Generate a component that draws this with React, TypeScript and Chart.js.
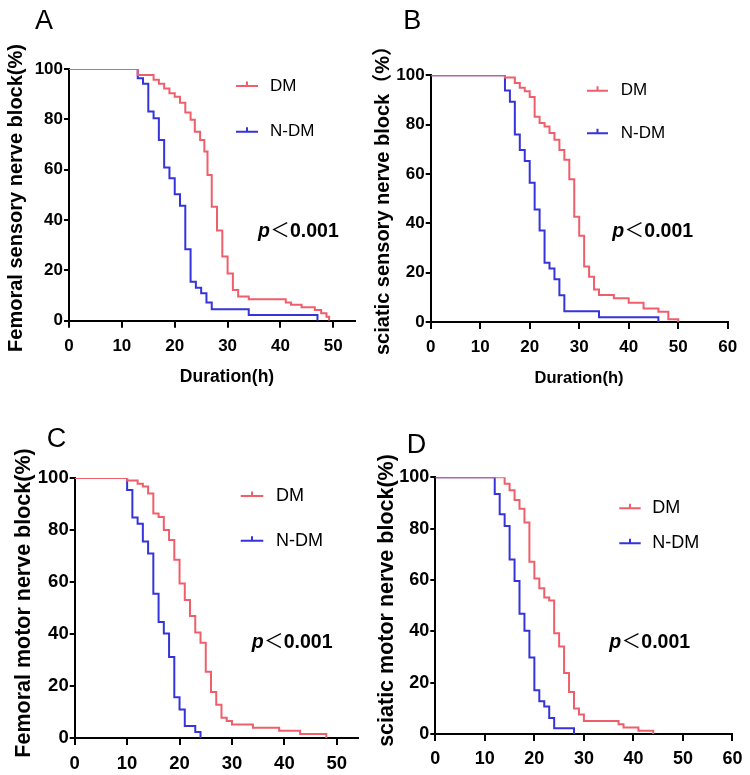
import React, { useEffect, useRef } from "react";
import { Chart, registerables } from "chart.js";

Chart.register(...registerables);

const FONT = "'Liberation Sans', Arial, Helvetica, sans-serif";
const CJK = "'Noto Sans CJK SC', 'Liberation Sans', sans-serif";

const SERIES = ["DM", "N-DM"];
const RED = "#EF5F6B";
const BLUE = "#3434DA";

// ---------- Panel A: femoral sensory ----------
const aDmHours = [0, 13, 16, 17, 18, 19, 20, 21, 22, 23, 23.8, 24.8, 25.6, 26.2, 27, 28, 29, 30, 31, 32, 34, 41, 42, 44, 46.5, 47.7, 48.7, 49.2];
const aDmBlock = [100, 97.6, 95.7, 94.1, 92.3, 90.4, 89.0, 86.6, 82.7, 79.8, 75.1, 71.8, 67.2, 57.9, 45.3, 35.8, 25.5, 18.8, 12.2, 9.6, 8.5, 7.2, 6.3, 5.3, 4.3, 3.0, 1.6, 0];
const aNdmHours = [0, 13, 14, 15, 16, 17, 18, 19, 20, 21, 22, 23, 24, 25, 26, 27, 34, 47];
const aNdmBlock = [100, 96.3, 94.1, 83.1, 80.4, 71.8, 60.9, 56.6, 50.2, 45.7, 28.4, 15.5, 13.1, 10.9, 7.2, 4.5, 2.3, 0];

// ---------- Panel B: sciatic sensory ----------
const bDmHours = [0, 15, 17, 18, 19, 20, 21, 22, 23, 24, 25, 26, 27, 28, 29, 30, 31, 32, 33, 34, 37, 40, 43, 46, 48, 50];
const bDmBlock = [100, 99.1, 96.9, 95, 93.5, 91.2, 83.2, 80.7, 79.2, 76.6, 73.9, 69.7, 65.8, 57.9, 42.7, 35, 22.5, 18.3, 13.2, 10.9, 9.6, 7.8, 5.5, 4.2, 1.1, 0];
const bNdmHours = [0, 15, 16, 17, 18, 19, 20, 21, 22, 23, 24, 25, 26, 27, 34, 46];
const bNdmBlock = [100, 93.8, 89.3, 76, 69.7, 65.3, 56.4, 45.6, 37.1, 24, 21.7, 17.3, 10.8, 4.4, 1.9, 0];

// ---------- Panel C: femoral motor ----------
const cDmHours = [0, 10, 12, 13, 14, 15, 16, 17, 18, 19, 20, 21, 22, 23, 24, 25, 26, 27, 28, 29, 30, 34, 39, 43, 48];
const cDmBlock = [100, 99, 97.8, 96.7, 94, 86.3, 85, 80, 76.2, 68.6, 59.4, 53.1, 46.9, 40.6, 36.6, 25.5, 17.7, 12.8, 7.8, 6.5, 5.2, 3.9, 2.8, 1.5, 0];
const cNdmHours = [0, 10, 11, 12, 13, 14, 15, 16, 17, 18, 19, 20, 21, 23, 24];
const cNdmBlock = [100, 95.4, 84.8, 82.4, 75.6, 71, 55.5, 44.6, 40.2, 31.2, 15.7, 11, 4.6, 2.3, 0];

// ---------- Panel D: sciatic motor ----------
const dDmHours = [0, 14, 15, 16, 17, 18, 19, 20, 21, 22, 23, 24, 25, 26, 27, 28, 29, 30, 37, 38, 41, 44];
const dDmBlock = [100, 97.5, 95, 91.2, 87.7, 82.4, 67.1, 60.6, 56.8, 53.2, 52, 39.2, 34.1, 23.8, 16.4, 9.9, 7.6, 5.1, 3.8, 2.5, 1.3, 0];
const dNdmHours = [0, 12, 13, 14, 15, 16, 17, 18, 19, 20, 21, 22, 23, 24, 28];
const dNdmBlock = [100, 93.5, 85.6, 81, 68, 59.6, 46.8, 40.2, 29.8, 17, 12.8, 10.7, 6.2, 2.2, 0];

// ---------- ticks & labels ----------
const xTicks50 = [0, 10, 20, 30, 40, 50];
const xTicks60 = [0, 10, 20, 30, 40, 50, 60];
const yTicks = [0, 20, 40, 60, 80, 100];
const letters = ["A", "B", "C", "D"];
const yTitles = [
  "Femoral sensory nerve block(%)",
  "sciatic sensory nerve block\uFF08%\uFF09",
  "Femoral motor nerve block(%)",
  "sciatic motor nerve block(%)",
];
const xTitle = "Duration(h)";
const pLabel = ["p", "\uFF1C", "0.001"];

type PanelCfg = {
  letter: string;
  box: { left: number; top: number; width: number; height: number };
  area: { left: number; top: number; right: number; bottom: number };
  xMax: number;
  xTicks: number[];
  dm: [number[], number[]];
  ndm: [number[], number[]];
  yTitle: string;
  yTitleSize: number;
  yTitleAt: [number, number];
  xTitleSize?: number;
  xTitleAt?: [number, number];
  tickSize: number;
  xTickPad: number;
  letterAt: [number, number];
  legend: { x0: number; x1: number; textX: number; ys: [number, number]; size: number };
  pAt: [number, number];
};

const panels: PanelCfg[] = [
  {
    letter: letters[0],
    box: { left: 0, top: 0, width: 375, height: 390 },
    area: { left: 69, top: 69, right: 355, bottom: 320.7 },
    xMax: 54.1,
    xTicks: xTicks50,
    dm: [aDmHours, aDmBlock],
    ndm: [aNdmHours, aNdmBlock],
    yTitle: yTitles[0],
    yTitleSize: 20,
    yTitleAt: [16.5, 198],
    xTitleSize: 17.5,
    xTitleAt: [227, 381.5],
    tickSize: 17,
    xTickPad: 8,
    letterAt: [35, 29.3],
    legend: { x0: 236, x1: 258, textX: 270, ys: [86, 131.7], size: 17 },
    pAt: [258, 237],
  },
  {
    letter: letters[1],
    box: { left: 360, top: 0, width: 390, height: 390 },
    area: { left: 70.7, top: 75.3, right: 367.7, bottom: 322 },
    xMax: 60,
    xTicks: xTicks60,
    dm: [bDmHours, bDmBlock],
    ndm: [bNdmHours, bNdmBlock],
    yTitle: yTitles[1],
    yTitleSize: 20,
    yTitleAt: [23, 195.5],
    xTitleSize: 16.5,
    xTitleAt: [219, 382.5],
    tickSize: 17,
    xTickPad: 8,
    letterAt: [43.3, 29.3],
    legend: { x0: 227, x1: 248, textX: 260.7, ys: [90.7, 133.3], size: 17 },
    pAt: [252.3, 237],
  },
  {
    letter: letters[2],
    box: { left: 0, top: 390, width: 375, height: 385 },
    area: { left: 74.7, top: 88, right: 358.3, bottom: 348 },
    xMax: 54.1,
    xTicks: xTicks50,
    dm: [cDmHours, cDmBlock],
    ndm: [cNdmHours, cNdmBlock],
    yTitle: yTitles[2],
    yTitleSize: 21.5,
    yTitleAt: [24, 213],
    tickSize: 18.5,
    xTickPad: 7.5,
    letterAt: [46.7, 56.7],
    legend: { x0: 240.7, x1: 263.3, textX: 276, ys: [106, 150.7], size: 18 },
    pAt: [251.7, 258],
  },
  {
    letter: letters[3],
    box: { left: 360, top: 390, width: 390, height: 385 },
    area: { left: 75.3, top: 87.3, right: 374, bottom: 344 },
    xMax: 60,
    xTicks: xTicks60,
    dm: [dDmHours, dDmBlock],
    ndm: [dNdmHours, dNdmBlock],
    yTitle: yTitles[3],
    yTitleSize: 21.5,
    yTitleAt: [27.5, 210.5],
    tickSize: 18,
    xTickPad: 7.5,
    letterAt: [46.7, 63.3],
    legend: { x0: 259.3, x1: 280.7, textX: 292.3, ys: [118.3, 153.3], size: 18 },
    pAt: [249.3, 258],
  },
];

function decorPlugin(p: PanelCfg) {
  return {
    id: "decor",
    afterDraw(chart: any) {
      const ctx: CanvasRenderingContext2D = chart.ctx;
      ctx.save();
      ctx.fillStyle = "#000";
      // panel letter
      ctx.font = `27px ${FONT}`;
      ctx.textAlign = "left";
      ctx.textBaseline = "alphabetic";
      ctx.fillText(p.letter, p.letterAt[0], p.letterAt[1]);

      // y title
      ctx.save();
      ctx.translate(p.yTitleAt[0], p.yTitleAt[1]);
      ctx.rotate(-Math.PI / 2);
      ctx.font = `bold ${p.yTitleSize}px ${FONT}, 'Noto Sans CJK SC'`;
      ctx.textAlign = "center";
      ctx.textBaseline = "middle";
      ctx.fillText(p.yTitle, 0, 0);
      ctx.restore();

      // x title
      if (p.xTitleAt && p.xTitleSize) {
        ctx.font = `bold ${p.xTitleSize}px ${FONT}`;
        ctx.textAlign = "center";
        ctx.textBaseline = "alphabetic";
        ctx.fillText(xTitle, p.xTitleAt[0], p.xTitleAt[1]);
      }

      // legend
      chart.data.datasets.forEach((ds: any, i: number) => {
        const y = p.legend.ys[i];
        const mid = (p.legend.x0 + p.legend.x1) / 2;
        ctx.strokeStyle = ds.borderColor;
        ctx.lineWidth = 2;
        ctx.beginPath();
        ctx.moveTo(p.legend.x0, y);
        ctx.lineTo(p.legend.x1, y);
        ctx.moveTo(mid, y);
        ctx.lineTo(mid, y - 4.5);
        ctx.stroke();
        ctx.fillStyle = "#000";
        ctx.font = `${p.legend.size}px ${FONT}`;
        ctx.textAlign = "left";
        ctx.textBaseline = "middle";
        ctx.fillText(ds.label, p.legend.textX, y);
      });

      // p value
      const s = 19.5;
      const [px, py] = p.pAt;
      ctx.fillStyle = "#000";
      ctx.textBaseline = "alphabetic";
      ctx.textAlign = "left";
      ctx.font = `italic bold ${s}px ${FONT}`;
      ctx.fillText(pLabel[0], px, py);
      ctx.font = `${s}px ${CJK}`;
      ctx.textAlign = "center";
      ctx.fillText(pLabel[1], px + 22, py);
      ctx.textAlign = "left";
      ctx.font = `bold ${s}px ${FONT}`;
      ctx.fillText(pLabel[2], px + 32, py);
      ctx.restore();
    },
  };
}

function toPoints(h: number[], v: number[]) {
  return h.map((x, i) => ({ x, y: v[i] }));
}

function KMPanel({ p }: { p: PanelCfg }) {
  const ref = useRef<HTMLCanvasElement | null>(null);
  useEffect(() => {
    if (!ref.current) return;
    const axisFont = { family: FONT, size: p.tickSize, weight: "bold" as const };
    const chart = new Chart(ref.current, {
      type: "line",
      data: {
        datasets: [
          {
            label: SERIES[0],
            data: toPoints(p.dm[0], p.dm[1]),
            borderColor: RED,
            backgroundColor: RED,
            borderWidth: 2,
            stepped: "before",
            pointRadius: 0,
            fill: false,
          },
          {
            label: SERIES[1],
            data: toPoints(p.ndm[0], p.ndm[1]),
            borderColor: BLUE,
            backgroundColor: BLUE,
            borderWidth: 2,
            stepped: "before",
            pointRadius: 0,
            fill: false,
          },
        ],
      },
      options: {
        animation: false,
        responsive: false,
        maintainAspectRatio: false,
        events: [],
        layout: {
          padding: { left: 0, top: p.area.top, right: p.box.width - p.area.right, bottom: 0 },
        },
        plugins: { legend: { display: false }, tooltip: { enabled: false } },
        scales: {
          x: {
            type: "linear",
            min: 0,
            max: p.xMax,
            afterBuildTicks: (s: any) => {
              s.ticks = p.xTicks.map((v) => ({ value: v }));
            },
            afterFit: (s: any) => {
              s.height = p.box.height - p.area.bottom;
            },
            border: { display: true, color: "#000", width: 2 },
            grid: { display: true, drawOnChartArea: false, drawTicks: true, tickLength: 7, color: "#000", lineWidth: 2 },
            ticks: { color: "#000", font: axisFont, padding: p.xTickPad, maxRotation: 0, autoSkip: false },
          },
          y: {
            type: "linear",
            min: 0,
            max: 100,
            afterBuildTicks: (s: any) => {
              s.ticks = yTicks.map((v) => ({ value: v }));
            },
            afterFit: (s: any) => {
              s.width = p.area.left;
            },
            border: { display: true, color: "#000", width: 2 },
            grid: { display: true, drawOnChartArea: false, drawTicks: true, tickLength: 5, color: "#000", lineWidth: 2 },
            ticks: { color: "#000", font: axisFont, padding: 1, autoSkip: false },
          },
        },
      },
      plugins: [decorPlugin(p)],
    });
    return () => chart.destroy();
  }, [p]);
  return (
    <canvas
      ref={ref}
      width={p.box.width}
      height={p.box.height}
      style={{
        position: "absolute",
        left: p.box.left,
        top: p.box.top,
        width: p.box.width,
        height: p.box.height,
        display: "block",
      }}
    />
  );
}

export default function App() {
  return (
    <div
      style={{
        position: "absolute",
        left: 0,
        top: 0,
        width: 750,
        height: 775,
        background: "#ffffff",
        overflow: "hidden",
      }}
    >
      {panels.map((p) => (
        <KMPanel key={p.letter} p={p} />
      ))}
    </div>
  );
}
